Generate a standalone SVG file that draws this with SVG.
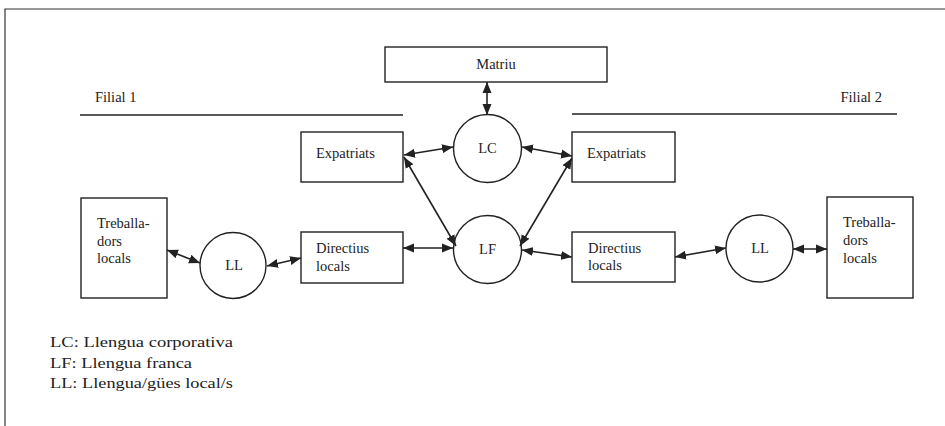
<svg xmlns="http://www.w3.org/2000/svg" width="945" height="426" viewBox="0 0 945 426">
<style>
.box{fill:#fff;stroke:#222;stroke-width:1.4}
.circ{fill:#fff;stroke:#222;stroke-width:1.4}
.t{font-family:"Liberation Serif","Times New Roman",serif;font-size:14.5px;fill:#222}
.leg{font-family:"Liberation Serif","Times New Roman",serif;font-size:15.5px;fill:#222}
.conn line{stroke:#222;stroke-width:1.6;marker-start:url(#ah);marker-end:url(#ah)}
.rule{stroke:#222;stroke-width:1.5}
</style>
<defs>
<marker id="ah" markerUnits="userSpaceOnUse" markerWidth="12" markerHeight="10" refX="11" refY="4.5" orient="auto-start-reverse" viewBox="0 0 12 9">
<path d="M0,0 L11,4.5 L0,9 Z" fill="#222"/>
</marker>
</defs>
<rect width="945" height="426" fill="#fff"/>
<g id="frame">
<path d="M5,426 L5,9 L945,9" fill="none" stroke="#333" stroke-width="1.2"/>
</g>
<g id="filial1">
<text class="t" x="95" y="102">Filial 1</text>
<line class="rule" x1="80" y1="115" x2="403" y2="115"/>
</g>
<g id="filial2">
<text class="t" x="882" y="102" text-anchor="end">Filial 2</text>
<line class="rule" x1="572" y1="114" x2="897" y2="114"/>
</g>
<g id="matriu">
<rect class="box" x="385" y="47" width="222" height="35"/>
<text class="t" x="496" y="69" text-anchor="middle">Matriu</text>
</g>
<g id="lc">
<circle class="circ" cx="487.5" cy="148.5" r="34"/>
<text class="t" x="487.5" y="153" text-anchor="middle">LC</text>
</g>
<g id="lf">
<circle class="circ" cx="487.5" cy="249.5" r="34"/>
<text class="t" x="487.5" y="254" text-anchor="middle">LF</text>
</g>
<g id="expatriats1">
<rect class="box" x="301" y="132" width="102" height="50"/>
<text class="t" x="316" y="158">Expatriats</text>
</g>
<g id="expatriats2">
<rect class="box" x="572" y="132" width="103" height="50"/>
<text class="t" x="587" y="158">Expatriats</text>
</g>
<g id="directius1">
<rect class="box" x="301" y="232" width="102" height="51"/>
<text class="t" x="316" y="253">Directius</text>
<text class="t" x="316" y="271">locals</text>
</g>
<g id="directius2">
<rect class="box" x="572" y="232" width="103" height="50"/>
<text class="t" x="588" y="253">Directius</text>
<text class="t" x="588" y="270">locals</text>
</g>
<g id="ll1">
<circle class="circ" cx="233" cy="265.5" r="33"/>
<text class="t" x="234" y="270" text-anchor="middle">LL</text>
</g>
<g id="ll2">
<circle class="circ" cx="759.5" cy="248.5" r="33.5"/>
<text class="t" x="760" y="253" text-anchor="middle">LL</text>
</g>
<g id="treballadors1">
<rect class="box" x="81" y="198" width="86" height="100"/>
<text class="t" x="97" y="228">Treballa-</text>
<text class="t" x="97" y="246">dors</text>
<text class="t" x="97" y="263">locals</text>
</g>
<g id="treballadors2">
<rect class="box" x="827" y="197" width="86" height="101"/>
<text class="t" x="843" y="227">Treballa-</text>
<text class="t" x="843" y="245">dors</text>
<text class="t" x="843" y="263">locals</text>
</g>
<g id="connectors" class="conn">
<line x1="487" y1="82" x2="487" y2="115"/>
<line x1="404" y1="155" x2="453" y2="147"/>
<line x1="522" y1="147" x2="572" y2="156"/>
<line x1="404" y1="157" x2="456" y2="246"/>
<line x1="572" y1="158" x2="520" y2="246"/>
<line x1="403" y1="248" x2="453" y2="248"/>
<line x1="522" y1="250" x2="572" y2="257"/>
<line x1="167" y1="250" x2="200" y2="263"/>
<line x1="267" y1="266" x2="301" y2="258"/>
<line x1="675" y1="257" x2="726" y2="248"/>
<line x1="793" y1="249" x2="827" y2="249"/>
</g>
<g id="legend">
<text class="leg" x="50" y="347" textLength="183" lengthAdjust="spacingAndGlyphs">LC: Llengua corporativa</text>
<text class="leg" x="50" y="368" textLength="142" lengthAdjust="spacingAndGlyphs">LF: Llengua franca</text>
<text class="leg" x="50" y="388" textLength="183" lengthAdjust="spacingAndGlyphs">LL: Llengua/gües local/s</text>
</g>
</svg>
